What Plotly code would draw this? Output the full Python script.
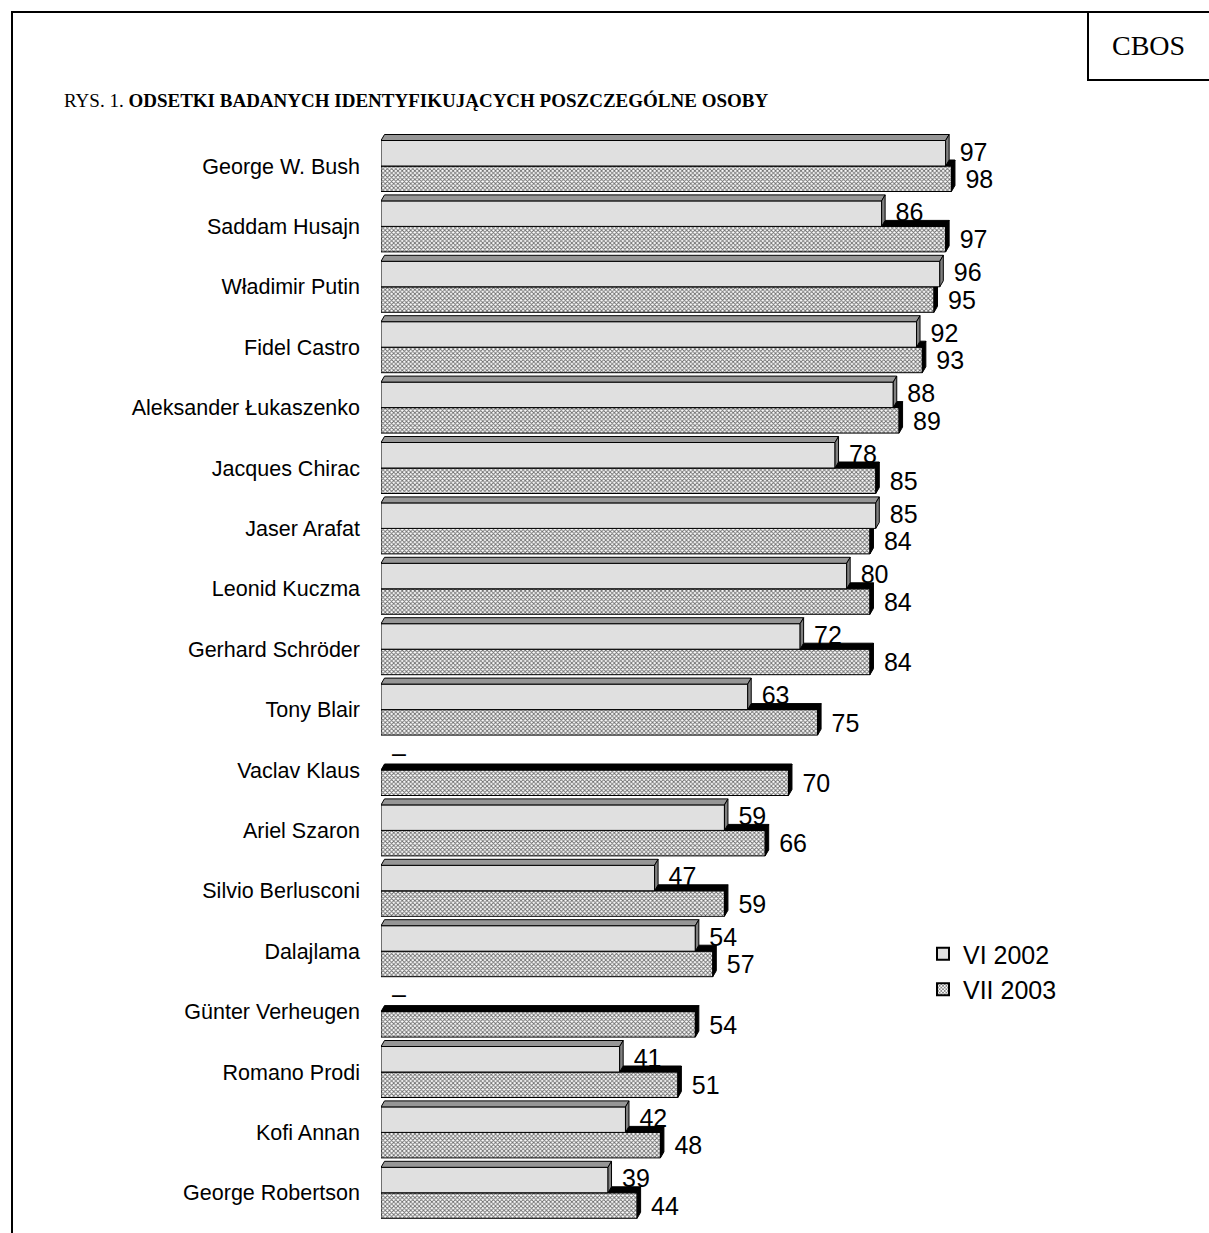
import plotly.graph_objects as go

# ---------------- data ----------------
names = ["George W. Bush", "Saddam Husajn", "Władimir Putin", "Fidel Castro",
         "Aleksander Łukaszenko", "Jacques Chirac", "Jaser Arafat", "Leonid Kuczma",
         "Gerhard Schröder", "Tony Blair", "Vaclav Klaus", "Ariel Szaron",
         "Silvio Berlusconi", "Dalajlama", "Günter Verheugen", "Romano Prodi",
         "Kofi Annan", "George Robertson"]
vi_2002 = [97, 86, 96, 92, 88, 78, 85, 80, 72, 63, None, 59, 47, 54, None, 41, 42, 39]
vii_2003 = [98, 97, 95, 93, 89, 85, 84, 84, 84, 75, 70, 66, 59, 57, 54, 51, 48, 44]
series_names = ["VI 2002", "VII 2003"]
title_plain = "RYS. 1. "
title_bold = "ODSETKI BADANYCH IDENTYFIKUJĄCYCH POSZCZEGÓLNE OSOBY"
source = "CBOS"

# ---------------- geometry / styles ----------------
W, H = 1209, 1233
ML, MR, MT, MB = 381, 13, 120, 10
PW, PH = W - ML - MR, H - MT - MB
XSCALE = 5.821            # px per percentage point
PITCH = 60.4              # px per category
XMAX = PW / XSCALE
YMIN = -(166 - MT) / PITCH
YMAX = YMIN + PH / PITCH

BAR_H = 25.5 / PITCH      # bar thickness (category units)
DX = 3.5 / XSCALE         # 3D depth, x
DY = 6.0 / PITCH          # 3D depth, y

def fx(px):
    return (px - ML) / PW

def fy(py):
    return (H - MB - py) / PH

FONT = "Arial, Liberation Sans, sans-serif"
SERIF = "Times New Roman, Liberation Serif, serif"

def front(v, y0, y1):
    return [0, v, v, 0, 0, None], [y0, y0, y1, y1, y0, None]

def top(v, y0):
    return [0, v, v + DX, DX, 0, None], [y0, y0, y0 - DY, y0 - DY, y0, None]

def side(v, y0, y1):
    return [v, v + DX, v + DX, v, v, None], [y0, y0 - DY, y1 - DY, y1, y0, None]

def collect(values, upper):
    fr_x, fr_y, tp_x, tp_y, sd_x, sd_y = [], [], [], [], [], []
    for i, v in enumerate(values):
        if v is None:
            continue
        y0, y1 = (i - BAR_H, i) if upper else (i, i + BAR_H)
        a, b = front(v, y0, y1); fr_x += a; fr_y += b
        a, b = top(v, y0); tp_x += a; tp_y += b
        a, b = side(v, y0, y1); sd_x += a; sd_y += b
    return fr_x, fr_y, tp_x, tp_y, sd_x, sd_y

pattern = dict(shape="x", size=3, solidity=0.5, fgcolor="#6a6a6a",
               bgcolor="#ffffff", fillmode="replace")

fig = go.Figure()

def poly(xs, ys, fillcolor, linecolor, lw=1, fillpattern=None):
    kw = dict(x=xs, y=ys, mode="lines", fill="toself", fillcolor=fillcolor,
              line=dict(color=linecolor, width=lw), hoverinfo="skip",
              showlegend=False)
    if fillpattern:
        kw["fillpattern"] = fillpattern
    fig.add_trace(go.Scatter(**kw))

# VII 2003 (lower bars) first
fx7, fy7, tx7, ty7, sx7, sy7 = collect(vii_2003, upper=False)
poly(fx7, fy7, "#ffffff", "#000000", 1, pattern)
poly(tx7, ty7, "#000000", "#000000", 1)
poly(sx7, sy7, "#000000", "#000000", 1)
# VI 2002 (upper bars) on top
fx6, fy6, tx6, ty6, sx6, sy6 = collect(vi_2002, upper=True)
poly(fx6, fy6, "#e0e0e0", "#000000", 1)
poly(tx6, ty6, "#969696", "#000000", 1)
poly(sx6, sy6, "#808080", "#000000", 1)

# value labels
LOFF = 14 / XSCALE
SHIFT = 3 / PITCH
lx, ly, lt = [], [], []
for i, (a, b) in enumerate(zip(vi_2002, vii_2003)):
    if a is None:
        lx.append(11 / XSCALE); ly.append(i - BAR_H / 2 - 2 / PITCH); lt.append("–")
    else:
        lx.append(a + LOFF); ly.append(i - BAR_H / 2 + SHIFT - 2 / PITCH); lt.append(str(a))
    lx.append(b + LOFF); ly.append(i + BAR_H / 2 + SHIFT); lt.append(str(b))
fig.add_trace(go.Scatter(x=lx, y=ly, text=lt, mode="text",
                         textposition="middle right",
                         textfont=dict(family=FONT, size=25, color="#000000"),
                         hoverinfo="skip", showlegend=False, cliponaxis=False))

# legend entries (dummy bars outside the visible range)
fig.add_trace(go.Bar(x=[0], y=[-50], orientation="h", name=series_names[0],
                     marker=dict(color="#e0e0e0", line=dict(color="#000000", width=1))))
fig.add_trace(go.Bar(x=[0], y=[-50], orientation="h", name=series_names[1],
                     marker=dict(color="#ffffff", line=dict(color="#000000", width=1),
                                 pattern=pattern)))

shapes = [
    # outer frame
    dict(type="rect", xref="paper", yref="paper", x0=fx(12), x1=fx(1230),
         y0=fy(1260), y1=fy(12), line=dict(color="#000000", width=2)),
    # CBOS box
    dict(type="rect", xref="paper", yref="paper", x0=fx(1088), x1=fx(1230),
         y0=fy(80), y1=fy(12), line=dict(color="#000000", width=2)),
]

annotations = [
    dict(xref="paper", yref="paper", x=fx(1148), y=fy(46), text=source,
         showarrow=False, xanchor="center", yanchor="middle",
         font=dict(family=SERIF, size=28, color="#000000")),
    dict(xref="paper", yref="paper", x=fx(62), y=fy(100),
         text=title_plain + "<b>" + title_bold + "</b>",
         showarrow=False, xanchor="left", yanchor="middle",
         font=dict(family=SERIF, size=19, color="#000000")),
]

fig.update_layout(
    width=W, height=H,
    margin=dict(l=ML, r=MR, t=MT, b=MB),
    paper_bgcolor="#ffffff", plot_bgcolor="#ffffff",
    xaxis=dict(range=[0, XMAX], visible=False, fixedrange=True),
    yaxis=dict(range=[YMAX, YMIN], tickmode="array",
               tickvals=list(range(len(names))), ticktext=names,
               showgrid=False, zeroline=False, showline=False, ticks="",
               ticklabelstandoff=20,
               tickfont=dict(family=FONT, size=21.5, color="#000000")),
    showlegend=True,
    legend=dict(x=fx(923), y=fy(931), xanchor="left", yanchor="top",
                font=dict(family=FONT, size=25, color="#000000"),
                bgcolor="rgba(0,0,0,0)", tracegroupgap=0, itemsizing="constant"),
    shapes=shapes, annotations=annotations,
)

fig.write_html("out.html")
